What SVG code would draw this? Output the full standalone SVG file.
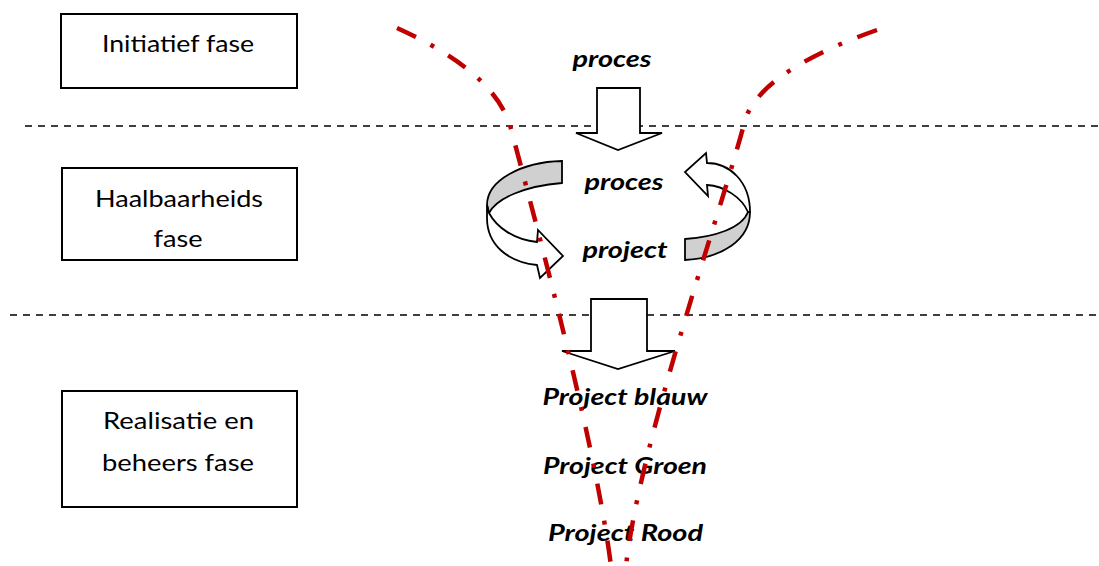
<svg xmlns="http://www.w3.org/2000/svg" width="1099" height="566" viewBox="0 0 1099 566">
  <style>
    .box { fill: #ffffff; stroke: #000000; stroke-width: 2; }
    .lbl { font-family: Lato, "Liberation Sans", sans-serif; font-size: 23px; fill: #000000; text-anchor: middle; }
    .bi { font-family: Lato, "Liberation Sans", sans-serif; font-size: 23px; font-weight: bold; font-style: italic; fill: #000000; text-anchor: middle; }
    .sep { fill: none; stroke: #000000; stroke-width: 1.5; stroke-dasharray: 7 6; }
    .arrow { fill: #ffffff; stroke: #000000; stroke-width: 1.8; stroke-linejoin: miter; }
    .back { fill: #d0d0d0; stroke: #000000; stroke-width: 1.8; }
    .funnel { fill: none; stroke: #c00000; stroke-width: 4.5; stroke-dasharray: 21 16.5 4 16.5; }
  </style>

  <!-- phase separators -->
  <g id="separators">
    <line class="sep" x1="25" y1="126" x2="1099" y2="126"/>
    <line class="sep" x1="10" y1="315" x2="1099" y2="315"/>
  </g>

  <!-- phase boxes -->
  <g id="initiatief">
    <rect class="box" x="61" y="14" width="236" height="74"/>
    <text class="lbl" x="178" y="52" textLength="152" lengthAdjust="spacingAndGlyphs">Initiatief fase</text>
  </g>
  <g id="haalbaarheid">
    <rect class="box" x="62" y="168" width="235" height="92"/>
    <text class="lbl" x="179" y="207" textLength="168" lengthAdjust="spacingAndGlyphs">Haalbaarheids</text>
    <text class="lbl" x="178" y="247" textLength="49" lengthAdjust="spacingAndGlyphs">fase</text>
  </g>
  <g id="realisatie">
    <rect class="box" x="62" y="391" width="235" height="116"/>
    <text class="lbl" x="178.5" y="429" textLength="151" lengthAdjust="spacingAndGlyphs">Realisatie en</text>
    <text class="lbl" x="178" y="471" textLength="152" lengthAdjust="spacingAndGlyphs">beheers fase</text>
  </g>

  <!-- block arrows -->
  <g id="arrow-down-top">
    <polygon class="arrow" points="597,88 640,88 640,133 662,133 618,150 576,133 597,133"/>
  </g>
  <g id="arrow-down-bottom">
    <polygon class="arrow" points="591,299 647,299 647,351 675,351 618,369 562,351 591,351"/>
  </g>

  <!-- circular arrows -->
  <g id="cycle-left">
    <path class="back" d="M562,161 C522,162 487,180 487,205 L489,213 C497,198 525,186 562,183 Z"/>
    <path class="arrow" d="M489,213 C497,228 515,240 537,242 L538,230 L563,256 L540,278 L537,265 C508,262 487,245 487,218 L487,205 Z"/>
  </g>
  <g id="cycle-right">
    <path class="arrow" d="M707,163 C730,163 750,182 750,212 L748,212 C742,198 725,186 707,185 L708,196 L685,172 L706,153 Z"/>
    <path class="back" d="M750,212 C750,240 722,258 685,260 L685,239 C715,237 742,228 748,212 Z"/>
  </g>

  <!-- stage labels -->
  <g id="labels">
    <text class="bi" x="612" y="67" textLength="79" lengthAdjust="spacingAndGlyphs">proces</text>
    <text class="bi" x="624" y="190" textLength="79" lengthAdjust="spacingAndGlyphs">proces</text>
    <text class="bi" x="625" y="258" textLength="85" lengthAdjust="spacingAndGlyphs">project</text>
    <text class="bi" x="625" y="405" textLength="165" lengthAdjust="spacingAndGlyphs">Project blauw</text>
    <text class="bi" x="625" y="474" textLength="164" lengthAdjust="spacingAndGlyphs">Project Groen</text>
    <text class="bi" x="625.5" y="541" textLength="155" lengthAdjust="spacingAndGlyphs">Project Rood</text>
  </g>

  <!-- funnel outline -->
  <g id="connectors">
    <path class="funnel" d="M397,28 C445,50 495,80 510,125 C535,220 595,440 611,566"/>
    <path class="funnel" d="M877,30 C820,50 758,80 745,120 C725,200 640,440 626,566"/>
  </g>
</svg>
